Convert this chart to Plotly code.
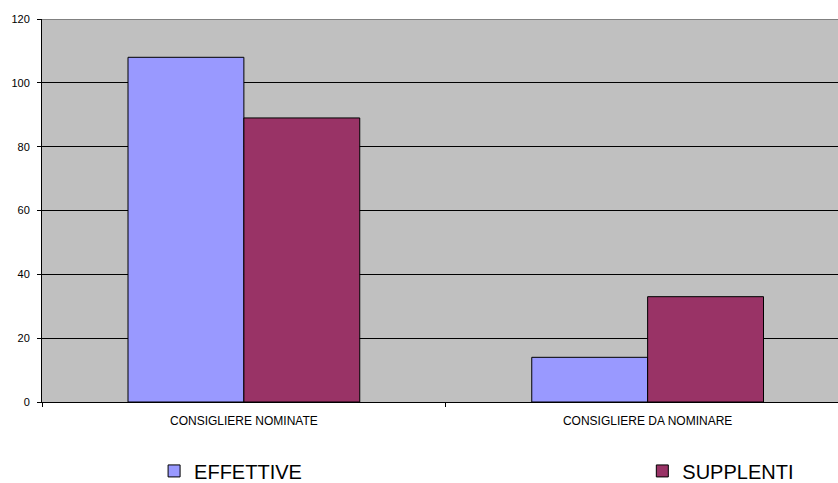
import plotly.graph_objects as go

categories = ["CONSIGLIERE NOMINATE", "CONSIGLIERE DA NOMINARE"]
effettive = [108, 14]
supplenti = [89, 33]
series_names = ["EFFETTIVE", "SUPPLENTI"]
y_ticks = [0, 20, 40, 60, 80, 100, 120]

FONT = "Liberation Sans, Arial, sans-serif"

fig = go.Figure()
fig.add_trace(go.Bar(
    x=categories, y=effettive, name=series_names[0],
    marker=dict(color="#9999FF", line=dict(color="black", width=1)),
    legend="legend", showlegend=True,
))
fig.add_trace(go.Bar(
    x=categories, y=supplenti, name=series_names[1],
    marker=dict(color="#993366", line=dict(color="black", width=1)),
    legend="legend2", showlegend=True,
))

leg_common = dict(
    yref="container", y=0.025, xanchor="left", yanchor="middle",
    orientation="h", font=dict(size=20, family=FONT),
    bgcolor="rgba(0,0,0,0)", itemwidth=30,
)

fig.update_layout(
    width=838, height=483,
    margin=dict(l=42, r=0, t=19, b=81, autoexpand=False),
    paper_bgcolor="white",
    plot_bgcolor="#C0C0C0",
    barmode="group",
    bargap=0.426,
    bargroupgap=0,
    showlegend=True,
    font=dict(family=FONT, color="black"),
    xaxis=dict(
        range=[-0.5, 1.4715],
        showline=True, linecolor="black", linewidth=1,
        ticks="outside", ticklen=4, tickcolor="black",
        tickson="boundaries",
        tickfont=dict(size=12, family=FONT),
        ticklabelstandoff=8,
        showgrid=False,
        fixedrange=True,
    ),
    yaxis=dict(
        range=[0, 120],
        tickvals=y_ticks,
        showline=True, linecolor="black", linewidth=1,
        ticks="outside", ticklen=4, tickcolor="black",
        tickfont=dict(size=11, family=FONT),
        ticklabelstandoff=5,
        showgrid=True, gridcolor="black", gridwidth=1,
        zeroline=False,
    ),
    legend=dict(x=118 / 838, **leg_common),
    legend2=dict(x=632 / 838, **leg_common),
    shapes=[dict(
        type="line", xref="paper", yref="y", x0=0, x1=1, y0=120, y1=120,
        line=dict(color="#808080", width=2), layer="above",
    )],
)

fig.write_html("out.html")
